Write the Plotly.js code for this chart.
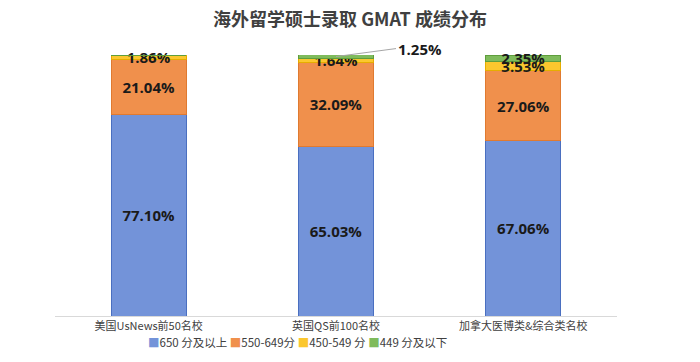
<!DOCTYPE html>
<html>
<head>
<meta charset="utf-8">
<script src="https://cdn.plot.ly/plotly-3.0.1.min.js"></script>
<style>html,body{margin:0;padding:0;background:#fff;}#chart{width:700px;height:362px;}</style>
</head>
<body>
<div id="chart"></div>
<script>
const categories = ['美国UsNews前50名校', '英国QS前100名校', '加拿大医博类&综合类名校'];
const seriesNames = ['650 分及以上', '550-649分', '450-549 分', '449 分及以下'];
const s650 = [77.10, 65.03, 67.06];
const s550 = [21.04, 32.09, 27.06];
const s450 = [1.86, 1.64, 3.53];
const s449 = [0, 1.25, 2.35];
const colors = ['#7393d9', '#f0904c', '#fbc72e', '#7fbb5c'];
const lineColors = ['#4a6fc0', '#e07a30', '#e6ad00', '#5f9e3c'];

const seriesValues = [s650, s550, s450, s449];
// text shown inside bars (1.25% is drawn as callout)
const showText = [[true,true,true],[true,true,true],[true,true,true],[false,false,true]];

const traces = seriesValues.map((vals, i) => ({
  type: 'bar',
  name: seriesNames[i],
  x: categories,
  y: vals,
  marker: {color: colors[i], line: {color: lineColors[i], width: 1}},
  text: vals.map((v, j) => showText[i][j] ? v.toFixed(2) + '%' : ''),
  textposition: 'inside',
  insidetextanchor: 'middle',
  constraintext: 'none',
  textfont: {family: 'Open Sans, Noto Sans CJK SC', size: 15, color: '#1a1a1a', weight: 'bold'},
  hoverinfo: 'none',
  showlegend: false,
  cliponaxis: false
}));

const legendText = seriesNames.map((n, i) =>
  '<span style="color:' + colors[i] + '">■</span>' + n).join(' ');

const layout = {
  width: 700, height: 362,
  margin: {l: 55, r: 83, t: 55, b: 46},
  barmode: 'stack',
  bargap: 0.6,
  paper_bgcolor: '#ffffff',
  plot_bgcolor: '#ffffff',
  font: {family: 'Noto Sans CJK SC, Noto Sans, sans-serif', color: '#404040'},
  title: {
    text: '<b>海外留学硕士录取 GMAT 成绩分布</b>',
    x: 0.5, xanchor: 'center', y: 0.945, yanchor: 'middle',
    font: {size: 18, color: '#404040', family: 'Noto Sans CJK SC, sans-serif'}
  },
  xaxis: {
    showline: true, linecolor: '#d9d9d9', linewidth: 1,
    ticks: '', tickfont: {size: 11, color: '#404040'},
    fixedrange: true
  },
  yaxis: {
    range: [0, 100], visible: false, showgrid: false, zeroline: false, fixedrange: true
  },
  showlegend: false,
  annotations: [{
    x: categories[1], y: 99.4, xref: 'x', yref: 'y',
    text: '<b>1.25%</b>', showarrow: true,
    ax: 60, ay: -8, arrowhead: 0, arrowwidth: 1, arrowcolor: '#a6a6a6',
    xanchor: 'left', font: {size: 15, color: '#1a1a1a', family: 'Open Sans, sans-serif'}
  }, {
    xref: 'paper', yref: 'paper', x: (297 - 55) / 562, y: -26 / 261,
    xanchor: 'center', yanchor: 'middle', showarrow: false,
    text: legendText,
    font: {size: 11.5, color: '#404040', family: 'Noto Sans CJK SC, sans-serif'}
  }]
};

Plotly.newPlot('chart', traces, layout, {displayModeBar: false, staticPlot: true});
</script>
</body>
</html>
